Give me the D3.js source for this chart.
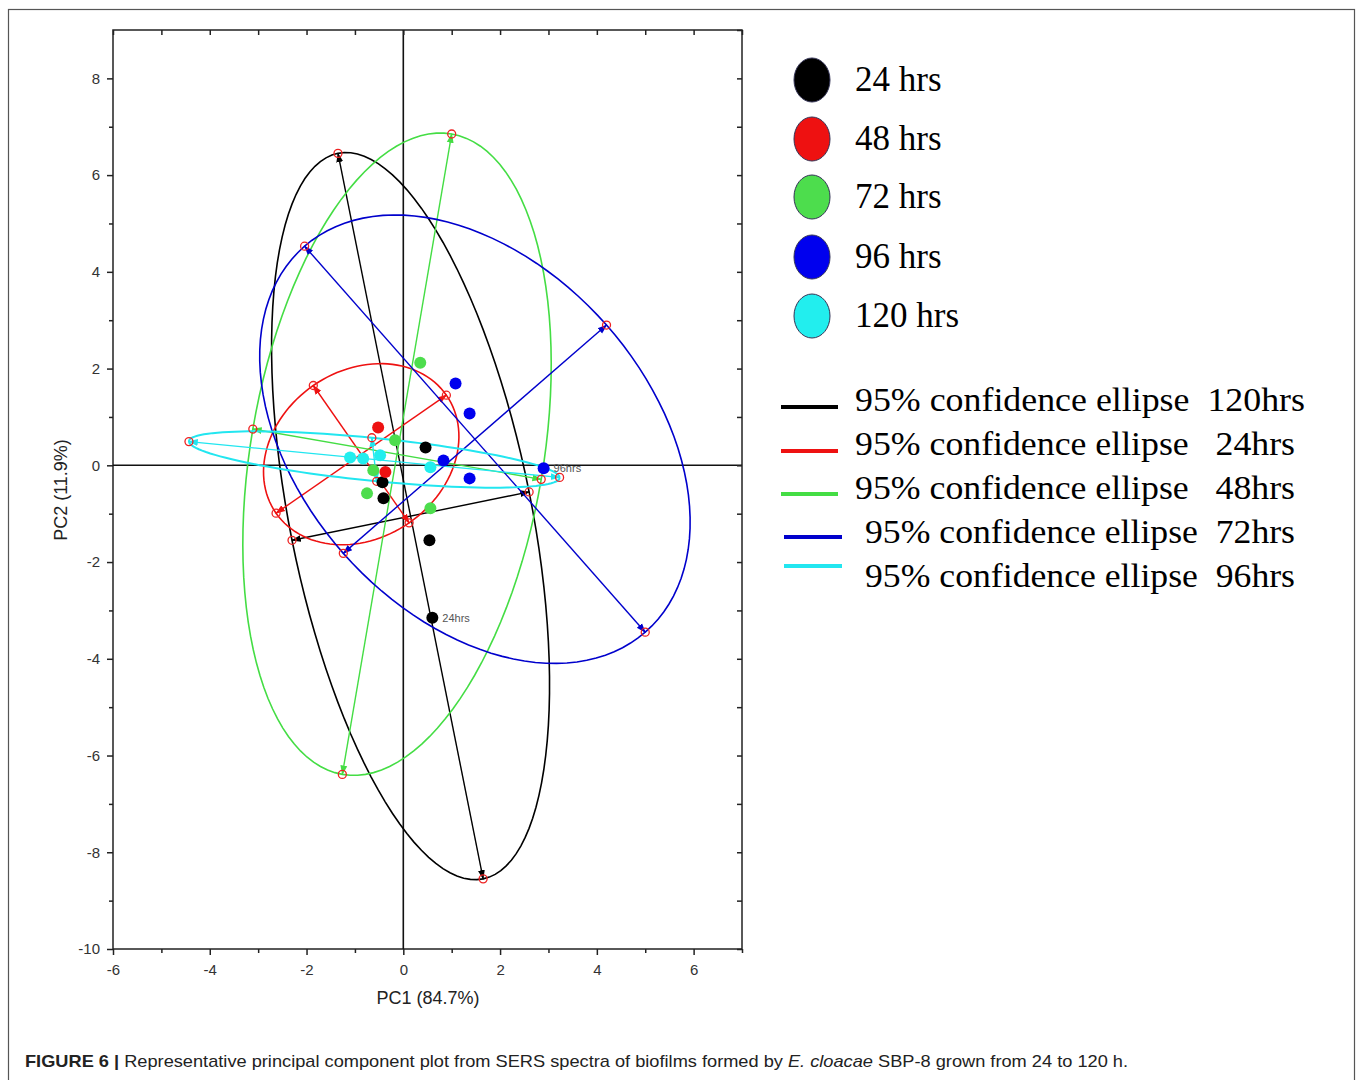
<!DOCTYPE html>
<html><head><meta charset="utf-8">
<script src="https://cdn.jsdelivr.net/npm/d3@7"></script>
<style>body{margin:0;background:#fff;} svg{display:block;}</style>
</head><body>
<script>
// ---------- data ----------
const groups = ["24 hrs", "48 hrs", "72 hrs", "96 hrs", "120 hrs"];
const groupColors = ["#000000", "#ee1111", "#4ddd4d", "#0000ee", "#22eeee"];
const points24 = [[0.46,0.37],[-0.43,-0.35],[-0.41,-0.68],[0.54,-1.55],[0.60,-3.15]];
const points48 = [[-0.52,0.78],[-0.37,-0.14]];
const points72 = [[0.35,2.12],[-0.17,0.52],[-0.75,-0.58],[0.56,-0.89],[-0.62,-0.10]];
const points96 = [[1.08,1.69],[1.37,1.07],[0.83,0.10],[1.37,-0.27],[2.90,-0.06]];
const points120 = [[-1.10,0.16],[-0.83,0.14],[-0.48,0.21],[0.56,-0.04]];
const pointLabels = [{text:"24hrs", at:[0.60,-3.15]}, {text:"96hrs", at:[2.90,-0.06]}];

const ellipseNames = ["95% confidence ellipse  120hrs","95% confidence ellipse   24hrs","95% confidence ellipse   48hrs","95% confidence ellipse  72hrs","95% confidence ellipse  96hrs"];
const ellipseColors = ["#000000", "#ee1111", "#44dd44", "#0000cc", "#22e6f0"];
const ellipseCenters = [[0.15,-1.05],[-0.87,0.23],[-0.13,0.23],[1.48,0.54],[-0.60,0.12]];
const ellipseAxisA = [[-1.50,7.50],[-0.99,1.42],[1.13,6.62],[3.52,-3.99],[3.83,-0.37]];
const ellipseAxisB = [[2.45,0.50],[1.76,1.22],[2.98,-0.52],[2.72,2.36],[-0.05,0.45]];

const xTicks = [-6,-4,-2,0,2,4,6];
const yTicks = [-10,-8,-6,-4,-2,0,2,4,6,8];
const xDomain = [-6, 7];
const yDomain = [-10, 9];

// ---------- layout ----------
const W = 1358, H = 1080;
const svg = d3.select("body").append("svg").attr("width", W).attr("height", H);
svg.append("rect").attr("x",8.5).attr("y",9.5).attr("width",1346).attr("height",1090)
  .attr("fill","none").attr("stroke","#555").attr("stroke-width",1.2);

const L = 113, R = 742, T = 30, B = 949;
const x = d3.scaleLinear().domain(xDomain).range([L, R]);
const y = d3.scaleLinear().domain(yDomain).range([B, T]);

const defs = svg.append("defs");
ellipseColors.forEach((c,i)=>{
  defs.append("marker").attr("id","arr"+i).attr("viewBox","0 0 10 10").attr("refX",9).attr("refY",5)
    .attr("markerWidth",7).attr("markerHeight",7).attr("orient","auto-start-reverse")
    .append("path").attr("d","M0,1.5L10,5L0,8.5Z").attr("fill",c);
});

const plot = svg.append("g");
plot.append("rect").attr("x",L).attr("y",T).attr("width",R-L).attr("height",B-T)
  .attr("fill","none").attr("stroke","#222").attr("stroke-width",1.5);

// axes
const fontAx = "Liberation Sans, Arial, sans-serif";
const fmt = d => String(d);
const gx = svg.append("g").attr("transform",`translate(0,${B})`)
  .call(d3.axisBottom(x).tickValues(xTicks).tickSize(6).tickPadding(9).tickFormat(fmt));
const gxm = svg.append("g").attr("transform",`translate(0,${B})`).call(d3.axisBottom(x).tickValues(d3.range(-5,8,2)).tickSize(4).tickFormat(""));
const gy = svg.append("g").attr("transform",`translate(${L},0)`)
  .call(d3.axisLeft(y).tickValues(yTicks).tickSize(6).tickPadding(7).tickFormat(fmt));
const gym = svg.append("g").attr("transform",`translate(${L},0)`).call(d3.axisLeft(y).tickValues(d3.range(-9,9,2)).tickSize(4).tickFormat(""));
const gt = svg.append("g").attr("transform",`translate(0,${T})`).call(d3.axisBottom(x).tickValues(d3.range(-6,8,1)).tickSize(5).tickFormat(""));
const gr = svg.append("g").attr("transform",`translate(${R},0)`).call(d3.axisLeft(y).tickValues(d3.range(-10,10,1)).tickSize(5).tickFormat(""));
[gx,gxm,gy,gym,gt,gr].forEach(g=>{
  g.select(".domain").remove();
  g.selectAll("line").attr("stroke","#222").attr("stroke-width",1.5);
  g.selectAll("text").attr("font-family",fontAx).attr("font-size",15).attr("fill","#333");
});

// zero lines
plot.append("line").attr("x1",x(xDomain[0])).attr("x2",x(xDomain[1])).attr("y1",y(0)).attr("y2",y(0))
  .attr("stroke","#111").attr("stroke-width",1.6);
plot.append("line").attr("x1",x(0)).attr("x2",x(0)).attr("y1",y(yDomain[0])).attr("y2",y(yDomain[1]))
  .attr("stroke","#111").attr("stroke-width",1.6);

// axis titles
svg.append("text").attr("x",428).attr("y",1004).attr("text-anchor","middle")
  .attr("font-family",fontAx).attr("font-size",18).attr("fill","#222").text("PC1 (84.7%)");
svg.append("text").attr("transform","translate(67,490) rotate(-90)").attr("text-anchor","middle")
  .attr("font-family",fontAx).attr("font-size",18).attr("fill","#222").text("PC2 (11.9%)");

// ellipses
const eG = plot.append("g");
ellipseCenters.forEach((c,i)=>{
  const a = ellipseAxisA[i], b = ellipseAxisB[i];
  const pts = d3.range(0,361,3).map(deg=>{
    const t = deg*Math.PI/180;
    return [c[0]+a[0]*Math.cos(t)+b[0]*Math.sin(t), c[1]+a[1]*Math.cos(t)+b[1]*Math.sin(t)];
  });
  eG.append("path").attr("d", d3.line().x(d=>x(d[0])).y(d=>y(d[1]))(pts))
    .attr("fill","none").attr("stroke",ellipseColors[i]).attr("stroke-width",i===4?2:1.6);
  [a,b].forEach(v=>{
    eG.append("line")
      .attr("x1",x(c[0]-v[0])).attr("y1",y(c[1]-v[1])).attr("x2",x(c[0]+v[0])).attr("y2",y(c[1]+v[1]))
      .attr("stroke",ellipseColors[i]).attr("stroke-width",1.4)
      .attr("marker-start",`url(#arr${i})`).attr("marker-end",`url(#arr${i})`);
  });
});
ellipseCenters.forEach((c,i)=>{
  const a = ellipseAxisA[i], b = ellipseAxisB[i];
  [[1,a],[-1,a],[1,b],[-1,b]].forEach(([s,v])=>{
    eG.append("circle").attr("cx",x(c[0]+s*v[0])).attr("cy",y(c[1]+s*v[1])).attr("r",4)
      .attr("fill","none").attr("stroke","#ee2222").attr("stroke-width",1.3);
  });
});

// points
const allPoints = [points24, points48, points72, points96, points120];
const pG = plot.append("g");
allPoints.forEach((arr,i)=>{
  pG.selectAll(null).data(arr).join("circle")
    .attr("cx",d=>x(d[0])).attr("cy",d=>y(d[1])).attr("r",6)
    .attr("fill",groupColors[i]);
});
pG.selectAll(null).data(pointLabels).join("text")
  .attr("x",d=>x(d.at[0])+10).attr("y",d=>y(d.at[1])+4)
  .attr("font-family",fontAx).attr("font-size",11).attr("fill","#555").text(d=>d.text);

// legend 1
const serif = "Liberation Serif, Times New Roman, serif";
const lg1 = svg.append("g");
const lgY1 = [80,139,197,257,316];
groups.forEach((g,i)=>{
  lg1.append("ellipse").attr("cx",812).attr("cy",lgY1[i]).attr("rx",18).attr("ry",22)
    .attr("fill",groupColors[i]).attr("stroke","#335").attr("stroke-width",1);
  lg1.append("text").attr("x",855).attr("y",lgY1[i]+11)
    .attr("font-family",serif).attr("font-size",35).attr("fill","#000").text(g);
});
// legend 2
const lg2 = svg.append("g");
const lgY2 = [407,451,494,537,566];
const lgT2 = [411,455,499,543,587];
const lgX2 = [855,855,855,865,865];
const lgLen2 = [450,440,440,430,430];
ellipseNames.forEach((n,i)=>{
  lg2.append("line").attr("x1",i>=3?784:781).attr("x2",i>=3?842:838).attr("y1",lgY2[i]).attr("y2",lgY2[i])
    .attr("stroke",ellipseColors[i]).attr("stroke-width",4);
  lg2.append("text").attr("x",lgX2[i]).attr("y",lgT2[i])
    .attr("font-family",serif).attr("font-size",33).attr("fill","#000")
    .attr("textLength",lgLen2[i]).attr("lengthAdjust","spacingAndGlyphs")
    .style("white-space","pre").text(n);
});

// caption
const cap = svg.append("text").attr("x",25).attr("y",1067)
  .attr("font-family",fontAx).attr("font-size",17).attr("fill","#222")
  .attr("textLength",1103).attr("lengthAdjust","spacingAndGlyphs");
cap.append("tspan").attr("font-weight","bold").text("FIGURE 6 | ");
cap.append("tspan").text("Representative principal component plot from SERS spectra of biofilms formed by ");
cap.append("tspan").attr("font-style","italic").text("E. cloacae");
cap.append("tspan").text(" SBP-8 grown from 24 to 120 h.");
</script>
</body></html>
